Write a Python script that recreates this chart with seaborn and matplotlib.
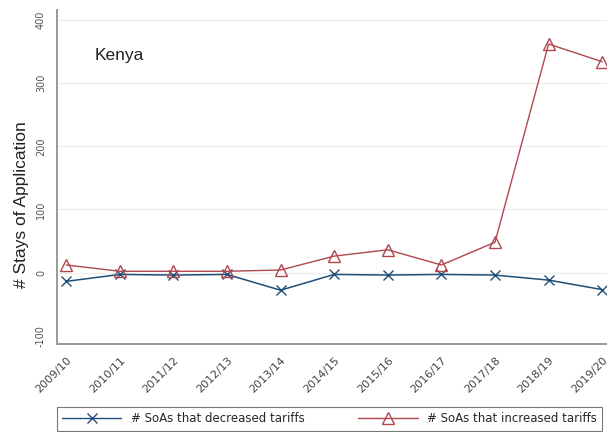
import matplotlib
matplotlib.use("Agg")
import matplotlib.pyplot as plt
import seaborn as sns
import pandas as pd
from matplotlib.lines import Line2D

# Fiscal years on the x axis
years = ["2009/10", "2010/11", "2011/12", "2012/13", "2013/14", "2014/15",
         "2015/16", "2016/17", "2017/18", "2018/19", "2019/20"]

# Number of stays of application per year
decreased = [-14, -3, -4, -3, -28, -3, -4, -3, -4, -12, -27]
increased = [12, 2, 2, 2, 4, 26, 36, 12, 48, 362, 334]

y_ticks = [-100, 0, 100, 200, 300, 400]
y_tick_labels = ["-100", "0", "100", "200", "300", "400"]

label_dec = "# SoAs that decreased tariffs"
label_inc = "# SoAs that increased tariffs"

df = pd.DataFrame({
    "pos": list(range(len(years))) * 2,
    "value": decreased + increased,
    "series": [label_dec] * len(years) + [label_inc] * len(years),
})

sns.set_theme(style="white")
plt.rcParams["font.family"] = ["DejaVu Sans"]

navy = "#1f4e79"
maroon = "#b0474e"

fig = plt.figure(figsize=(6.07, 4.32), dpi=100)
ax = fig.add_axes([0.094, 0.204, 0.906, 0.773])

dec_df = df[df["series"] == label_dec]
inc_df = df[df["series"] == label_inc]

sns.lineplot(data=dec_df, x="pos", y="value", ax=ax, color=navy, lw=1.1,
             marker="x", markersize=6.5, markeredgewidth=1.0,
             markeredgecolor=navy, legend=False)
sns.lineplot(data=inc_df, x="pos", y="value", ax=ax, color=maroon, lw=1.0,
             marker="^", markersize=8, markerfacecolor="none",
             markeredgewidth=1.0, markeredgecolor=maroon, legend=False)

ax.set_xlim(-0.17, 10.09)
ax.set_ylim(-113, 416)

ax.set_yticks(y_ticks)
ax.set_yticklabels(y_tick_labels, rotation=90, va="center", fontsize=7,
                   color="#555555")
ax.set_xticks(range(len(years)))
ax.set_xticklabels(years, rotation=45, ha="right", rotation_mode="anchor",
                   fontsize=8, color="#444444")

ax.set_xlabel("")
ax.set_ylabel("# Stays of Application", fontsize=12.5, color="#222222",
              family="Liberation Sans")
ax.yaxis.set_label_coords(-0.051, 0.416)

for y in y_ticks[1:]:
    ax.axhline(y, color="#eeeeee", lw=0.9, zorder=0)

for side in ["top", "right"]:
    ax.spines[side].set_visible(False)
for side in ["left", "bottom"]:
    ax.spines[side].set_color("#9a9a9a")
    ax.spines[side].set_linewidth(1.4)

ax.tick_params(axis="both", which="major", length=5, width=1.0,
               color="#9a9a9a", direction="out", pad=3)

ax.text(0.069, 0.851, "Kenya", transform=ax.transAxes, fontsize=12.5,
        family="Liberation Sans", color="#222222")

handles = [
    Line2D([], [], color=navy, lw=1.0, marker="x", markersize=6.5,
           markeredgecolor=navy),
    Line2D([], [], color=maroon, lw=1.0, marker="^", markersize=8,
           markerfacecolor="none", markeredgecolor=maroon),
]
leg = fig.legend(handles, [label_dec, label_inc], loc="lower left",
                 bbox_to_anchor=(0.094, 0.003, 0.898, 0.066), mode="expand",
                 ncol=2, fontsize=8.5, handlelength=5, columnspacing=3.0,
                 handletextpad=0.8, fancybox=False, frameon=True,
                 borderpad=0.45, borderaxespad=0.0)
leg.get_frame().set_edgecolor("#555555")
leg.get_frame().set_linewidth(0.8)

fig.savefig("out.png", dpi=100)
